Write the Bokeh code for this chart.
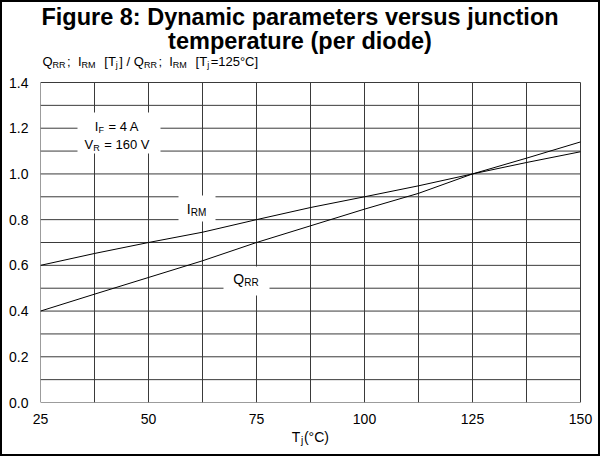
from bokeh.plotting import figure
from bokeh.layouts import column
from bokeh.models import Label, BoxAnnotation, FixedTicker, Range1d, PrintfTickFormatter
from bokeh.embed import file_html
from bokeh.resources import INLINE

# ---- data ----
tj = [25, 37.5, 50, 62.5, 75, 87.5, 100, 112.5, 125, 137.5, 150]
irm = [0.600, 0.652, 0.700, 0.745, 0.800, 0.853, 0.900, 0.948, 1.000, 1.050, 1.097]
qrr = [0.400, 0.474, 0.547, 0.620, 0.700, 0.773, 0.846, 0.915, 1.000, 1.069, 1.140]

x_ticks = [25, 50, 75, 100, 125, 150]
y_ticks = [0.0, 0.2, 0.4, 0.6, 0.8, 1.0, 1.2, 1.4]
x_grid = [25, 37.5, 50, 62.5, 75, 87.5, 100, 112.5, 125, 137.5, 150]
y_grid = [0.0, 0.1, 0.2, 0.3, 0.4, 0.5, 0.6, 0.7, 0.8, 0.9, 1.0, 1.1, 1.2, 1.3, 1.4]

title_lines = ["Figure 8: Dynamic parameters versus junction", "temperature (per diode)"]

FONT = "Liberation Sans"
BASE_FIX = 0.37   # empirical: raise labels so that their baseline sits where asked

# page geometry (px)
ORG = 10                    # canvas origin on the page (8 margin + 2 border)
CW, CH = 596, 452           # canvas size inside the border
FL, FR, FT, FB = 48, 588, 90, 410   # data area on the page
x0, x1 = x_grid[0], x_grid[-1]
y0, y1 = y_grid[0], y_grid[-1]
ppx = (FR - FL) / (x1 - x0)
ppy = (FB - FT) / (y1 - y0)
x_end = x1 + (ORG + CW - FR) / ppx   # frame stretched to the right edge
y_end = y1 + (FT - ORG) / ppy        # frame stretched to the top edge

p = figure(width=CW, height=CH, title=None,
           x_range=Range1d(x0, x_end), y_range=Range1d(y0, y_end),
           output_backend="svg", toolbar_location=None,
           min_border_left=FL - ORG, min_border_right=0,
           min_border_top=0, min_border_bottom=ORG + CH - FB)
p.background_fill_color = "white"
p.border_fill_color = "white"
p.outline_line_color = None
p.xgrid.visible = False
p.ygrid.visible = False

GRID = "#3a3a3a"
# grid (limited to the data area)
p.segment(x0=x_grid, y0=[y0] * len(x_grid), x1=x_grid, y1=[y1] * len(x_grid),
          line_color=GRID, line_width=1)
p.segment(x0=[x0] * len(y_grid), y0=y_grid, x1=[x1] * len(y_grid), y1=y_grid,
          line_color=GRID, line_width=1)

# axes
p.xaxis.ticker = FixedTicker(ticks=x_ticks)
p.yaxis.ticker = FixedTicker(ticks=y_ticks)
p.yaxis.formatter = PrintfTickFormatter(format="%.1f")
for ax in (p.xaxis, p.yaxis):
    ax.axis_line_color = None
    ax.major_tick_line_color = None
    ax.minor_tick_line_color = None
    ax.major_tick_out = 0
    ax.major_tick_in = 0
    ax.major_label_text_font = FONT
    ax.major_label_text_font_size = "14px"
    ax.major_label_text_color = "black"
p.yaxis.major_label_standoff = 12
p.xaxis.major_label_standoff = 11

# curves
p.line(tj, irm, line_color="black", line_width=1)
p.line(tj, qrr, line_color="black", line_width=1)


def px_x(px):
    return x0 + (px - FL) / ppx


def px_y(py):
    return y0 + (FB - py) / ppy


# white boxes that hide the grid behind the annotations
for (l, r, t, b) in [(85, 168, 120, 161), (186, 223, 203, 229), (231, 277, 274, 303)]:
    p.add_layout(BoxAnnotation(left=px_x(l), right=px_x(r), top=px_y(t), bottom=px_y(b),
                               fill_color="white", fill_alpha=1.0, line_color=None))

W = {' ': 278, '(': 333, ')': 333, '/': 278, ';': 278, '=': 584, 'A': 667, 'C': 722,
     'F': 611, 'I': 278, 'M': 833, 'Q': 778, 'R': 722, 'T': 611, 'V': 667, '[': 278,
     ']': 278, 'j': 222, '\u00b0': 400}


def tw(s, size):
    return sum(W.get(c, 556) for c in s) * size / 1000.0


def put(text, px, py, size, bold=False, align="left", place=None):
    lab = Label(x=x0, y=y0, x_offset=px - FL, y_offset=FB - (py - BASE_FIX * size),
                text=text, text_font=FONT, text_font_size=f"{size}px",
                text_font_style="bold" if bold else "normal",
                text_color="black", text_align=align, text_baseline="alphabetic")
    if place:
        p.add_layout(lab, place)
    else:
        p.add_layout(lab)


def rich(runs, px, py, size, sub_size, align="left", gap=1.0, shift=2):
    total = sum(tw(t, sub_size if s else size) + (gap if s else 0) for t, s in runs)
    x = px - total / 2 if align == "center" else px
    for t, s in runs:
        fs = sub_size if s else size
        lead = len(t) - len(t.lstrip(' '))
        body = t.strip(' ')
        if body:
            put(body, x + tw(' ' * lead, fs), py + (shift if s else 0), fs)
        x += tw(t, fs) + (gap if s else 0)


# title (kept below the top edge so that no text box is clipped)
put(title_lines[0], 307.5, 33, 23.5, bold=True, align="center")
put(title_lines[1], 307.5, 57.5, 23.5, bold=True, align="center")

# y-axis caption
rich([("Q", 0), ("RR", 1), ("; ", 0), (" I", 0), ("RM", 1), ("  [T", 0), ("j", 1),
      ("] / Q", 0), ("RR", 1), ("; ", 0), (" I", 0), ("RM", 1), ("  [T", 0), ("j", 1),
      ("=125\u00b0C]", 0)], 50, 73.5, 13, 9, gap=1.5)

# conditions
rich([("I", 0), ("F", 1), (" = 4 A", 0)], 124.5, 139, 13, 9, align="center")
rich([("V", 0), ("R", 1), (" = 160 V", 0)], 124.5, 157, 13, 9, align="center")

# curve labels
rich([("I", 0), ("RM", 1)], 204.5, 221.5, 14, 10, align="center")
rich([("Q", 0), ("RR", 1)], 254, 291.5, 14, 10, align="center")

# x-axis caption "Tj(°C)": two texts kept in the bottom panel (outside the frame)
cap_main, cap_sub = "T (\u00b0C)", "j"
cap_w = tw(cap_main, 14)
cap_left = 318 - cap_w / 2
put(cap_main, cap_left, 450, 14, place="below")
put(cap_sub, cap_left + tw("T", 14) + 0.6, 452, 10, place="below")

layout = column(p, styles={"border": "2px solid black"})
open("out.html", "w").write(file_html(layout, INLINE))
